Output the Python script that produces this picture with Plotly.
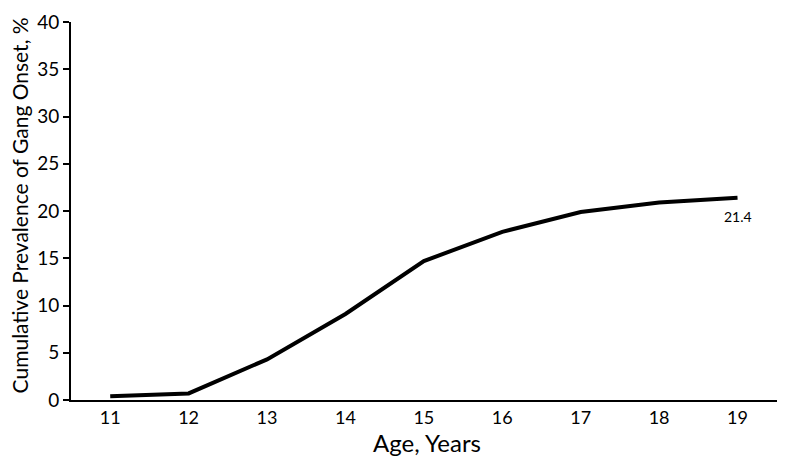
import plotly.graph_objects as go

ages = [11, 12, 13, 14, 15, 16, 17, 18, 19]
prevalence = [0.4, 0.7, 4.3, 9.1, 14.7, 17.8, 19.9, 20.9, 21.4]
y_ticks = [0, 5, 10, 15, 20, 25, 30, 35, 40]

fig = go.Figure()
fig.add_trace(go.Scatter(
    x=ages, y=prevalence, mode="lines",
    line=dict(color="black", width=4),
    showlegend=False, hoverinfo="skip",
))

fig.add_annotation(
    x=ages[-1], y=prevalence[-1], text=str(prevalence[-1]),
    showarrow=False, yshift=-19, xshift=0,
    font=dict(size=14, color="black"),
)

# y title as a rotated annotation so it sits clear of the tick labels
fig.add_annotation(
    xref="paper", yref="paper", x=-0.071, y=0.516,
    xanchor="center", yanchor="middle",
    text="Cumulative Prevalence of Gang Onset, %", textangle=-90,
    showarrow=False, font=dict(size=21, color="black"),
)

# page body adds an 8px margin, so the figure is sized a bit smaller
font = "Lato, Open Sans, sans-serif"
fig.update_layout(
    width=777, height=452,
    margin=dict(l=63, r=2, t=14, b=60, autoexpand=False),
    plot_bgcolor="white", paper_bgcolor="white",
    font=dict(family=font, color="black"),
    xaxis=dict(
        range=[10.5, 19.58], tickvals=ages, ticks="",
        showline=True, linecolor="black", linewidth=2,
        showgrid=False, zeroline=False, automargin=False,
        tickfont=dict(size=18),
        title=dict(text="Age, Years", font=dict(size=24), standoff=2),
    ),
    yaxis=dict(
        range=[0, 40], tickvals=y_ticks, ticks="outside", ticklen=6,
        tickwidth=2, tickcolor="black",
        showline=True, linecolor="black", linewidth=2,
        showgrid=False, zeroline=False, automargin=False,
        tickfont=dict(size=19),
    ),
)

fig.write_html("out.html")
